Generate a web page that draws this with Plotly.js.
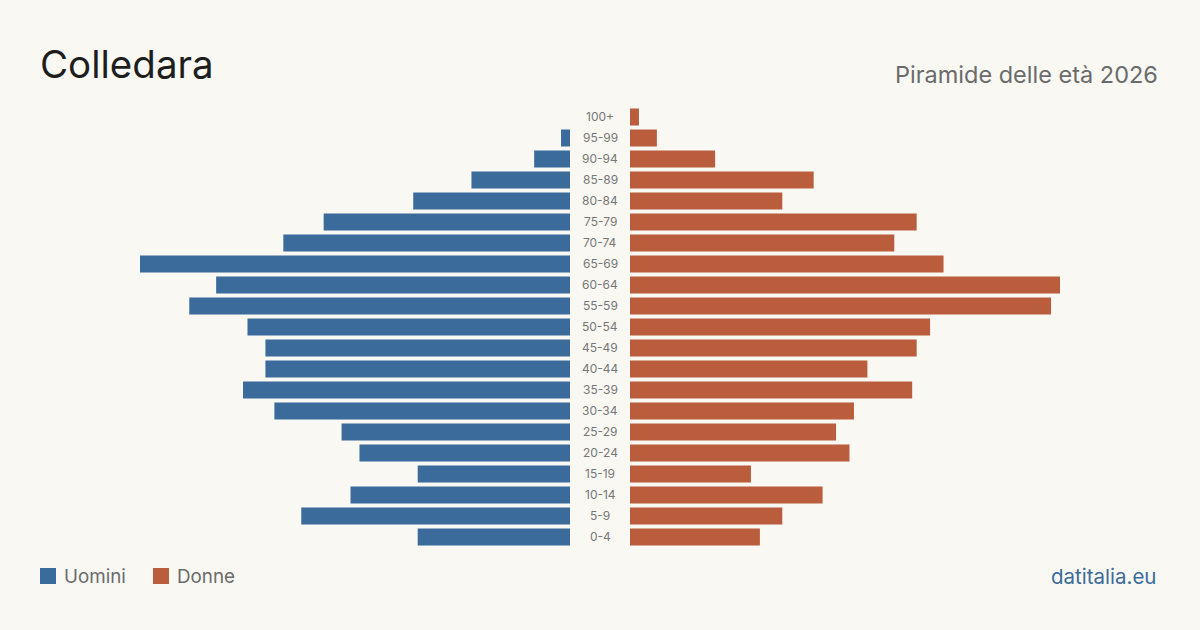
<!DOCTYPE html>
<html>
<head>
<meta charset="utf-8">
<script src="https://cdn.plot.ly/plotly-3.0.1.min.js"></script>
<style>
html,body{margin:0;padding:0;background:#f9f8f3;}
#chart{width:1200px;height:630px;}
</style>
</head>
<body>
<div id="chart"></div>
<script>
const ageGroups = ["100+","95-99","90-94","85-89","80-84","75-79","70-74","65-69","60-64","55-59","50-54","45-49","40-44","35-39","30-34","25-29","20-24","15-19","10-14","5-9","0-4"];
const men   = [0, 2, 8, 22, 35, 55, 64, 96, 79, 85, 72, 68, 68, 73, 66, 51, 47, 34, 49, 60, 34];
const women = [2, 6, 19, 41, 34, 64, 59, 70, 96, 94, 67, 64, 53, 63, 50, 46, 49, 27, 43, 34, 29];
const maxVal = 96;

const blue = "#3b6b9b";
const orange = "#ba5d3d";
const font = "Inter, 'Noto Sans', sans-serif";

const traces = [
  {type:"bar", orientation:"h", x:men, y:ageGroups, xaxis:"x", yaxis:"y",
   marker:{color:blue}, hoverinfo:"x+y", name:"Uomini"},
  {type:"bar", orientation:"h", x:women, y:ageGroups, xaxis:"x2", yaxis:"y2",
   marker:{color:orange}, hoverinfo:"x+y", name:"Donne"}
];

const yDom = [0.131, 0.831];
const catOrder = ageGroups.slice().reverse();

const annotations = ageGroups.map(g => ({
  xref:"paper", yref:"y", x:0.5, y:g, text:g, showarrow:false,
  font:{family:font, size:12, color:"#777"}, xanchor:"center", yanchor:"middle"
}));
annotations.push(
  {xref:"paper", yref:"paper", x:38/1200, y:1-89/630, text:"Colledara", showarrow:false,
   xanchor:"left", yanchor:"bottom", font:{family:font, size:38.5, color:"#1e1e1e"}},
  {xref:"paper", yref:"paper", x:1160/1200, y:1-91/630, text:"Piramide delle età 2026", showarrow:false,
   xanchor:"right", yanchor:"bottom", font:{family:font, size:23.5, color:"#6b6b6b"}},
  {xref:"paper", yref:"paper", x:62/1200, y:1-576/630, text:"Uomini", showarrow:false,
   xanchor:"left", yanchor:"middle", font:{family:font, size:18.8, color:"#6b6b6b"}},
  {xref:"paper", yref:"paper", x:175/1200, y:1-576/630, text:"Donne", showarrow:false,
   xanchor:"left", yanchor:"middle", font:{family:font, size:18.8, color:"#6b6b6b"}},
  {xref:"paper", yref:"paper", x:1158/1200, y:1-576/630, text:"datitalia.eu", showarrow:false,
   xanchor:"right", yanchor:"middle", font:{family:font, size:20.5, color:"#3b6b9b"}}
);

const shapes = [
  {type:"rect", xref:"paper", yref:"paper", x0:40/1200, x1:56/1200, y0:1-584/630, y1:1-568/630,
   fillcolor:blue, line:{width:0}},
  {type:"rect", xref:"paper", yref:"paper", x0:153/1200, x1:169/1200, y0:1-584/630, y1:1-568/630,
   fillcolor:orange, line:{width:0}}
];

const layout = {
  width:1200, height:630,
  margin:{l:0, r:0, t:0, b:0},
  paper_bgcolor:"#f9f8f3", plot_bgcolor:"rgba(0,0,0,0)",
  showlegend:false,
  bargap:0.19,
  xaxis:{domain:[140/1200, 570/1200], range:[maxVal, 0], visible:false, fixedrange:true},
  xaxis2:{domain:[630/1200, 1060/1200], range:[0, maxVal], visible:false, fixedrange:true},
  yaxis:{domain:yDom, type:"category", categoryorder:"array", categoryarray:catOrder, visible:false, anchor:"x"},
  yaxis2:{domain:yDom, type:"category", categoryorder:"array", categoryarray:catOrder, visible:false, anchor:"x2"},
  annotations:annotations,
  shapes:shapes,
  font:{family:font}
};

Plotly.newPlot("chart", traces, layout, {displayModeBar:false, staticPlot:true});
</script>
</body>
</html>
